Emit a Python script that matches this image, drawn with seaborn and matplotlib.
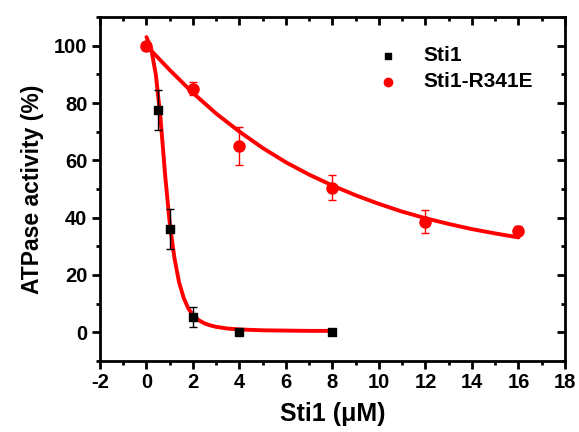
import numpy as np
import pandas as pd
import seaborn as sns
import matplotlib.pyplot as plt
from matplotlib.ticker import MultipleLocator

# measured points
sti1_x = [0, 0.5, 1, 2, 4, 8]
sti1_y = [100, 77.5, 36, 5.5, 0, 0]
sti1_err = [0, 7, 7, 3.5, 0, 0]

mut_x = [0, 2, 4, 8, 12, 16]
mut_y = [100, 85, 65, 50.5, 38.5, 35.5]
mut_err = [0, 2.3, 6.5, 4.5, 4, 1.5]

# fit curves
fit1_x = [0, 0.2, 0.4, 0.6, 0.8, 1.0, 1.2, 1.4, 1.6, 1.8, 2.0, 2.25, 2.5, 2.75, 3, 3.5, 4, 5, 6, 7, 8]
fit1_y = [103, 99, 90, 75, 55, 38, 26, 17.5, 12, 8.3, 6, 4.2, 3.1, 2.4, 1.9, 1.3, 1.0, 0.7, 0.6, 0.5, 0.5]
fit2_x = [0, 1, 2, 3, 4, 5, 6, 7, 8, 9, 10, 11, 12, 13, 14, 15, 16]
fit2_y = [100, 91.5, 83.5, 76.3, 70, 64.3, 59.3, 55, 51.2, 47.8, 44.8, 42.1, 39.8, 37.8, 36, 34.5, 33.1]

sns.set_style('ticks', {'axes.edgecolor': 'black', 'text.color': 'black',
                        'axes.labelcolor': 'black', 'xtick.color': 'black', 'ytick.color': 'black'})
plt.rcParams['font.family'] = ['Liberation Sans', 'DejaVu Sans']
plt.rcParams['font.weight'] = 'bold'
plt.rcParams['axes.unicode_minus'] = False

fig = plt.figure(figsize=(5.79, 4.32), dpi=100)
ax = fig.add_axes([0.1727, 0.1644, 0.8031, 0.7962])

df1 = pd.DataFrame({'x': fit1_x, 'y': fit1_y})
df2 = pd.DataFrame({'x': fit2_x, 'y': fit2_y})
sns.lineplot(data=df1, x='x', y='y', ax=ax, color='red', lw=2.8, zorder=2)
sns.lineplot(data=df2, x='x', y='y', ax=ax, color='red', lw=2.8, zorder=2)

ax.errorbar(sti1_x, sti1_y, yerr=sti1_err, fmt='none', ecolor='black', elinewidth=1, capsize=3, zorder=3)
ax.errorbar(mut_x, mut_y, yerr=mut_err, fmt='none', ecolor='red', elinewidth=1, capsize=3, zorder=3)
ax.scatter(sti1_x, sti1_y, marker='s', s=36, color='black', zorder=4, label='Sti1')
ax.scatter(mut_x, mut_y, marker='o', s=64, color='red', zorder=4, label='Sti1-R341E')

ax.set_xlim(-2, 18)
ax.set_ylim(-10, 110)
ax.xaxis.set_major_locator(MultipleLocator(2))
ax.xaxis.set_minor_locator(MultipleLocator(1))
ax.yaxis.set_minor_locator(MultipleLocator(10))
ax.set_yticks([0, 20, 40, 60, 80, 100])

for s in ax.spines.values():
    s.set_visible(True)
    s.set_linewidth(2)
    s.set_color('black')
ax.tick_params(which='major', direction='out', length=6, width=2, labelsize=14.5, pad=3, colors='black')
ax.tick_params(which='minor', direction='out', length=3, width=2, colors='black')
for lab in ax.get_xticklabels() + ax.get_yticklabels():
    lab.set_fontweight('bold')

top = ax.secondary_xaxis('top')
top.xaxis.set_major_locator(MultipleLocator(2))
top.xaxis.set_minor_locator(MultipleLocator(1))
top.tick_params(which='major', direction='in', length=6, width=2, labeltop=False)
top.tick_params(which='minor', direction='in', length=3, width=2)
right = ax.secondary_yaxis('right')
right.yaxis.set_major_locator(MultipleLocator(20))
right.yaxis.set_minor_locator(MultipleLocator(10))
right.tick_params(which='major', direction='in', length=6, width=2, labelright=False)
right.tick_params(which='minor', direction='in', length=3, width=2)

ax.set_xlabel('Sti1 (\u03bcM)', fontsize=18, fontweight='bold', labelpad=7, color='black')
ax.set_ylabel('ATPase activity (%)', fontsize=16.5, fontweight='bold', labelpad=7, color='black')

ax.legend(loc='upper left', bbox_to_anchor=(0.535, 0.97), frameon=False,
          prop={'weight': 'bold', 'size': 15}, handletextpad=0.7, labelspacing=0.35, markerscale=0.75)

fig.savefig('out.png', dpi=100)
